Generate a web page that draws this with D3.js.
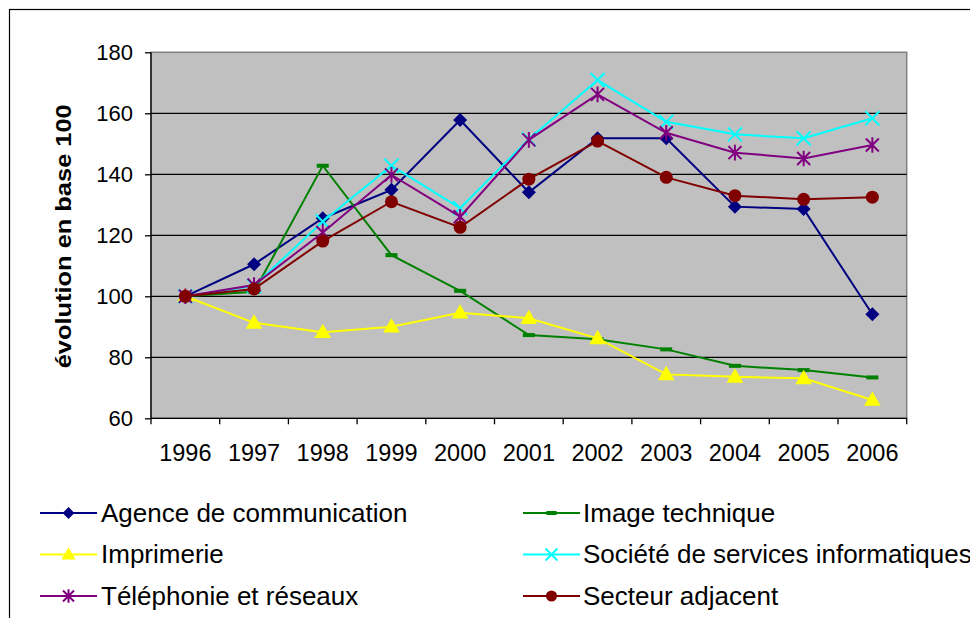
<!DOCTYPE html>
<html>
<head>
<meta charset="utf-8">
<script src="https://cdn.jsdelivr.net/npm/d3@7"></script>
<style>
  body { margin: 0; background: #fff; }
  svg text { font-family: Arial, "Liberation Sans", sans-serif; fill: #000; }
</style>
</head>
<body>
<svg width="970" height="618"></svg>
<script>
// data (index base 100 in 1996)
var years = ["1996", "1997", "1998", "1999", "2000", "2001", "2002", "2003", "2004", "2005", "2006"];
var yTicks = [60, 80, 100, 120, 140, 160, 180];

var agence     = [100, 110.5, 125.6, 134.9, 157.8, 134.1, 151.8, 151.8, 129.4, 128.6, 94.1];
var imageTech  = [100, 101.5, 142.8, 113.5, 101.8, 87.3, 85.9, 82.6, 77.2, 75.8, 73.4];
var imprimerie = [100, 91.3, 88.2, 90.0, 94.6, 92.8, 86.2, 74.4, 73.6, 73.1, 66.0];
var ssii       = [100, 103.4, 124.5, 142.8, 128.9, 151.5, 170.9, 157.2, 153.1, 151.8, 158.4];
var telephonie = [100, 103.7, 120.9, 139.8, 126.1, 151.3, 166.2, 153.6, 147.1, 145.2, 149.6];
var secteur    = [100, 102.4, 118.1, 131.0, 122.6, 138.4, 150.9, 139.0, 133.0, 131.8, 132.5];

var series = [
  {name: "Agence de communication", values: agence, color: "#000080", marker: "diamond"},
  {name: "Image technique", values: imageTech, color: "#008000", marker: "dash"},
  {name: "Imprimerie", values: imprimerie, color: "#FFFF00", marker: "triangle"},
  {name: "Société de services informatiques", values: ssii, color: "#00FFFF", marker: "x"},
  {name: "Téléphonie et réseaux", values: telephonie, color: "#800080", marker: "star"},
  {name: "Secteur adjacent", values: secteur, color: "#800000", marker: "circle"}
];

var svg = d3.select("svg");
var plot = {left: 151, right: 906.7, top: 52.3, bottom: 418.3};

// outer frame (runs off the page on the right and bottom)
svg.append("rect")
    .attr("x", 9.5).attr("y", 9.5)
    .attr("width", 1000).attr("height", 700)
    .attr("fill", "none").attr("stroke", "#000").attr("stroke-width", 1.2);

var x = d3.scaleBand().domain(years).range([plot.left, plot.right]);
var y = d3.scaleLinear().domain([60, 180]).range([plot.bottom, plot.top]);
function cx(i) { return x(years[i]) + x.bandwidth() / 2; }

svg.append("rect")
    .attr("x", plot.left).attr("y", plot.top)
    .attr("width", plot.right - plot.left).attr("height", plot.bottom - plot.top)
    .attr("fill", "#C0C0C0").attr("stroke", "#808080").attr("stroke-width", 1.5);

// gridlines
svg.append("g").selectAll("line")
    .data(yTicks.filter(function (d) { return d > 60 && d < 180; }))
    .join("line")
    .attr("x1", plot.left).attr("x2", plot.right)
    .attr("y1", function (d) { return y(d); }).attr("y2", function (d) { return y(d); })
    .attr("stroke", "#000").attr("stroke-width", 1.2);

// y axis
var yAxis = d3.axisLeft(y).tickValues(yTicks).tickSize(6).tickPadding(12);
var gy = svg.append("g").attr("transform", "translate(" + plot.left + ",0)").call(yAxis);
gy.select(".domain").attr("d", "M0," + plot.top + "V" + plot.bottom).attr("stroke-width", 1.3);
gy.selectAll(".tick line").attr("stroke-width", 1.3);
gy.selectAll("text").attr("font-size", 22).attr("font-family", "Arial, 'Liberation Sans', sans-serif").attr("fill", "#000");

// x axis: ticks on category boundaries
var gx = svg.append("g").attr("transform", "translate(0," + plot.bottom + ")");
gx.append("line").attr("x1", plot.left).attr("x2", plot.right)
    .attr("stroke", "#000").attr("stroke-width", 1.3);
gx.selectAll(".xt").data(years.concat(["end"])).join("line")
    .attr("class", "xt")
    .attr("x1", function (d, i) { return plot.left + i * x.bandwidth(); })
    .attr("x2", function (d, i) { return plot.left + i * x.bandwidth(); })
    .attr("y1", 0).attr("y2", 6)
    .attr("stroke", "#000").attr("stroke-width", 1.3);
gx.selectAll("text").data(years).join("text")
    .attr("x", function (d, i) { return cx(i); })
    .attr("y", 43)
    .attr("text-anchor", "middle")
    .attr("font-size", 23.5)
    .text(function (d) { return d; });

// y title
svg.append("text")
    .attr("transform", "translate(71," + ((plot.top + plot.bottom) / 2 + 1) + ") rotate(-90)")
    .attr("text-anchor", "middle")
    .attr("font-size", 22)
    .attr("font-weight", "bold")
    .attr("textLength", 264)
    .attr("lengthAdjust", "spacingAndGlyphs")
    .text("évolution en base 100");

function drawMarker(g, type, color, s) {
  if (type === "diamond") {
    var d = 7 * s;
    g.append("path").attr("d", "M0," + -d + "L" + d + ",0L0," + d + "L" + -d + ",0Z").attr("fill", color);
  } else if (type === "triangle") {
    g.append("path").attr("d", d3.symbol(d3.symbolTriangle, 120 * s * s)()).attr("fill", color)
        .attr("transform", "translate(0,1)");
  } else if (type === "circle") {
    g.append("circle").attr("r", 6.5 * s).attr("fill", color);
  } else if (type === "dash") {
    g.append("rect").attr("x", -6 * s).attr("y", -2).attr("width", 12 * s).attr("height", 4).attr("fill", color);
  } else if (type === "x") {
    var r = 7 * s;
    g.append("path").attr("d", "M" + -r + "," + -r + "L" + r + "," + r + "M" + -r + "," + r + "L" + r + "," + -r)
        .attr("stroke", color).attr("stroke-width", 2).attr("fill", "none");
  } else if (type === "star") {
    var r2 = 6.5 * s;
    g.append("path").attr("d", "M" + -r2 + "," + -r2 + "L" + r2 + "," + r2 + "M" + -r2 + "," + r2 + "L" + r2 + "," + -r2 +
        "M0," + (-r2 * 1.2) + "V" + (r2 * 1.2))
        .attr("stroke", color).attr("stroke-width", 2).attr("fill", "none");
  }
}

var line = d3.line()
    .x(function (d, i) { return cx(i); })
    .y(function (d) { return y(d); });

series.forEach(function (s) {
  var g = svg.append("g");
  g.append("path").datum(s.values)
      .attr("d", line)
      .attr("fill", "none")
      .attr("stroke", s.color)
      .attr("stroke-width", 2);
  s.values.forEach(function (v, i) {
    var m = g.append("g").attr("transform", "translate(" + cx(i) + "," + y(v) + ")");
    drawMarker(m, s.marker, s.color, 1);
  });
});

// legend, two columns, three rows
var legRows = [513, 554.5, 596];
var legCols = [{x0: 40, x1: 97, tx: 101}, {x0: 523, x1: 580, tx: 583}];
series.forEach(function (s, i) {
  var c = legCols[i % 2], ry = legRows[Math.floor(i / 2)];
  var g = svg.append("g");
  g.append("line").attr("x1", c.x0).attr("x2", c.x1).attr("y1", ry).attr("y2", ry)
      .attr("stroke", s.color).attr("stroke-width", 2);
  var m = g.append("g").attr("transform", "translate(" + ((c.x0 + c.x1) / 2) + "," + ry + ")");
  drawMarker(m, s.marker, s.color, 0.85);
  g.append("text").attr("x", c.tx).attr("y", ry + 8.5)
      .attr("font-size", 26)
      .text(s.name);
});
</script>
</body>
</html>
